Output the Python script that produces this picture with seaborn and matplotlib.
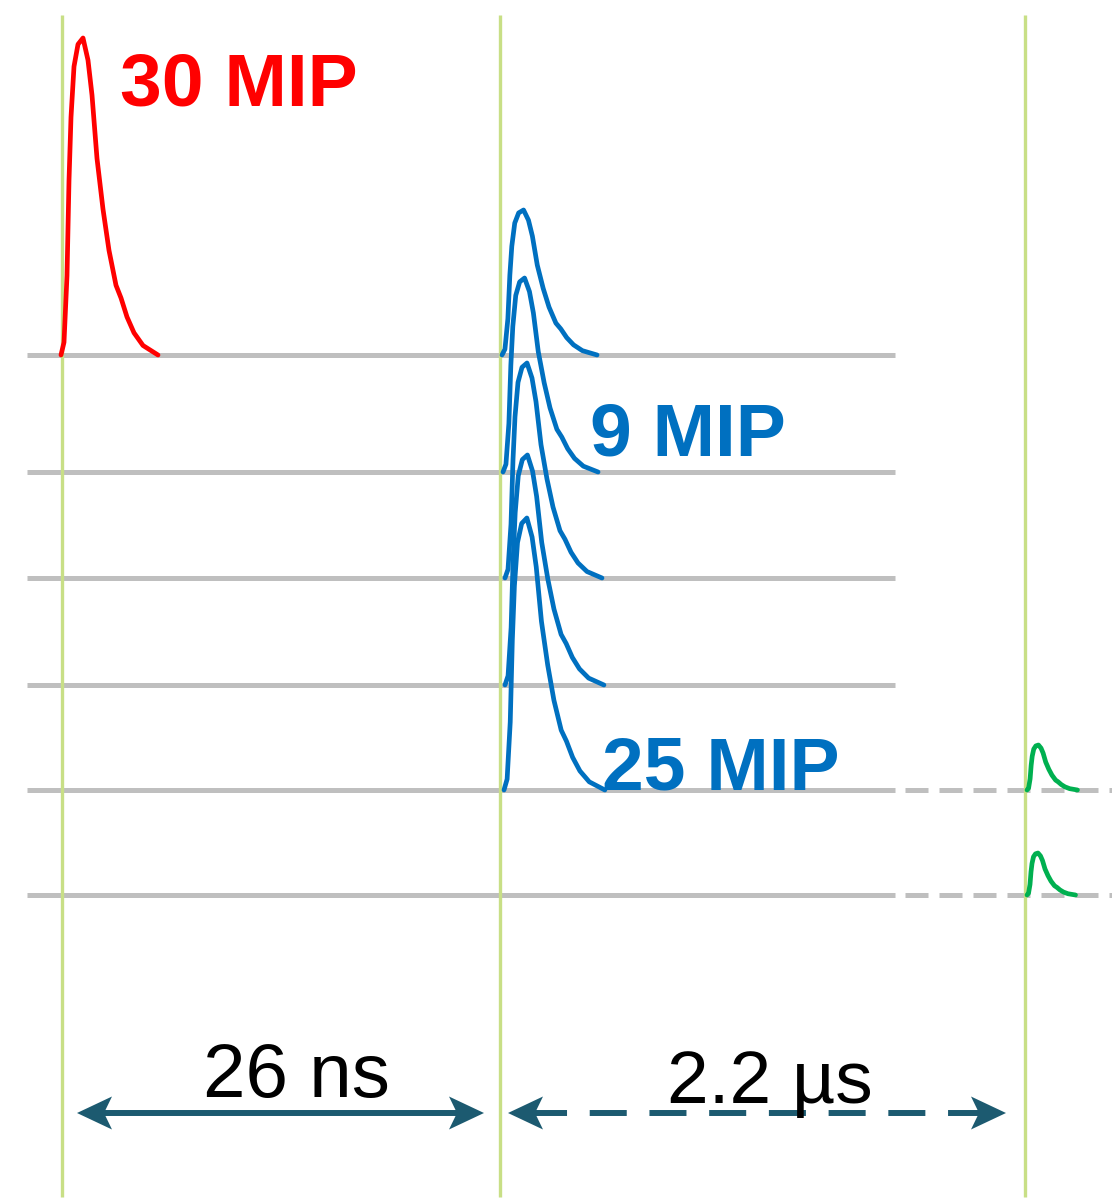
import pandas as pd
import matplotlib
matplotlib.use("Agg")
import matplotlib.pyplot as plt
import seaborn as sns

# Common pulse shape: offset from pulse start (px) and fraction of peak height
shape_offset = [0, 3, 6, 8, 10, 13, 17, 22, 27, 31, 36, 42, 48, 55, 60, 66, 73, 82, 97]
shape_frac = [0.0, 0.04, 0.25, 0.55, 0.75, 0.91, 0.98, 1.0, 0.93, 0.82,
              0.62, 0.46, 0.33, 0.22, 0.18, 0.12, 0.07, 0.03, 0.0]

# Detector layer baselines and bunch-crossing markers
layer_y = [355, 472, 578, 685, 790, 895]
crossing_x = [62, 500, 1025]

# Individual pulses
pulse_names = ["r0", "b0", "b1", "b2", "b3", "b4", "g0", "g1"]
pulse_group = ["red", "blue", "blue", "blue", "blue", "blue", "green", "green"]
pulse_start = [61, 502, 503, 505, 505, 504, 1027, 1027]
pulse_base = [355, 355, 472, 578, 685, 790, 790, 895]
pulse_height = [317, 145, 194, 215, 230, 272, 45, 42]
pulse_width = [1.0, 0.98, 0.98, 1.0, 1.02, 1.04, 0.52, 0.50]

mip_labels = ["30 MIP", "9 MIP", "25 MIP"]
time_labels = ["26 ns", "2.2 µs"]

palette = {"red": "#FF0000", "blue": "#0070C0", "green": "#00B050"}
grid_grey = "#BFBFBF"
marker_green = "#C8DF86"
arrow_col = "#1C5A70"

rows = []
for name, grp, x0, yb, h, w in zip(pulse_names, pulse_group, pulse_start,
                                    pulse_base, pulse_height, pulse_width):
    for off, fr in zip(shape_offset, shape_frac):
        rows.append({"pulse": name, "group": grp, "x": x0 + off * w, "y": yb - fr * h})
df = pd.DataFrame(rows)

sns.set_theme(style="white")
plt.rcParams["font.family"] = ["Liberation Sans", "DejaVu Sans"]

fig = plt.figure(figsize=(11.12, 12), dpi=100)
ax = fig.add_axes([0, 0, 1, 1])

# layer lines
ax.hlines(layer_y, 27, 895, color=grid_grey, lw=3.6, zorder=1)
ax.hlines(layer_y[-2:], 905, 1112, color=grid_grey, lw=3.6, zorder=1,
          linestyles=(0, (4.6, 2.2)))

# bunch-crossing markers
ax.vlines(crossing_x, 15, 1197, color=marker_green, lw=2.4, zorder=2)

sns.lineplot(data=df, x="x", y="y", units="pulse", estimator=None, hue="group",
             palette=palette, sort=False, legend=False, linewidth=3.4,
             solid_joinstyle="round", solid_capstyle="round", ax=ax, zorder=3)

bold = dict(fontweight="bold", fontsize=54, va="baseline", ha="left")
ax.text(120, 105, mip_labels[0], color=palette["red"], **bold)
ax.text(590, 455, mip_labels[1], color=palette["blue"], **bold)
ax.text(602, 790, mip_labels[2], color=palette["blue"], **bold)


def arrow_head(tip_x, y, direction):
    L, H, notch = 35, 16.5, 8
    xs = [tip_x, tip_x + direction * L, tip_x + direction * (L - notch), tip_x + direction * L]
    ys = [y, y - H, y, y + H]
    ax.fill(xs, ys, color=arrow_col, lw=0, zorder=4)


arrow_y = 1113
# 26 ns arrow (solid)
ax.plot([100, 462], [arrow_y, arrow_y], color=arrow_col, lw=4.3, solid_capstyle="butt", zorder=4)
arrow_head(77, arrow_y, 1)
arrow_head(484, arrow_y, -1)
# 2.2 us arrow (dashed)
ax.plot([530, 985], [arrow_y, arrow_y], color=arrow_col, lw=4.3,
        linestyle=(0, (6.2, 3.8)), dash_capstyle="butt", zorder=4)
arrow_head(508, arrow_y, 1)
arrow_head(1006, arrow_y, -1)

ax.text(296, 1097, time_labels[0], fontsize=55, ha="center", va="baseline", color="black", zorder=5)
ax.text(770, 1103, time_labels[1], fontsize=54, ha="center", va="baseline", color="black", zorder=5)

ax.set_xlim(0, 1112)
ax.set_ylim(1200, 0)
ax.axis("off")

fig.savefig("out.png", dpi=100, facecolor="white")
